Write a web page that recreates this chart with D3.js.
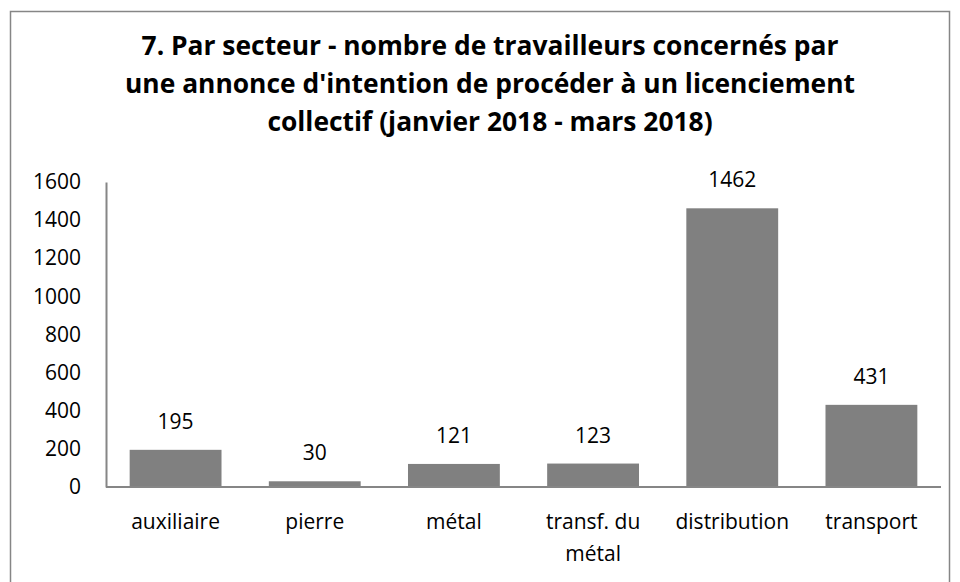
<!DOCTYPE html>
<html>
<head>
<meta charset="utf-8">
<script src="https://cdn.jsdelivr.net/npm/d3@7"></script>
<style>
  html, body { margin: 0; padding: 0; background: #fff; }
  svg { display: block; font-family: "Open Sans", "Liberation Sans", sans-serif; }
</style>
</head>
<body>
<div id="chart"></div>
<script>
/* bar chart — licenciements collectifs par secteur */

const TITLE_LINES = [
  "7. Par secteur - nombre de travailleurs concernés par",
  "une annonce d'intention de procéder à un licenciement",
  "collectif (janvier 2018 - mars 2018)",
];
const categories = ["auxiliaire", "pierre", "métal", "transf. du métal", "distribution", "transport"];
const values     = [195, 30, 121, 123, 1462, 431];
const yTicks     = [0, 200, 400, 600, 800, 1000, 1200, 1400, 1600];

const W = 960, H = 582;
const margin = { top: 182, right: 19, bottom: 95, left: 106 };
const AXIS_COLOR = "#868686";
const BAR_COLOR  = "#808080";
const FONT = '"Open Sans", "Liberation Sans", sans-serif';

const svg = d3.select("#chart").append("svg")
  .attr("width", W).attr("height", H);

// outer frame
svg.append("rect")
  .attr("x", 10.5).attr("y", 11.5)
  .attr("width", 939).attr("height", 600)
  .attr("fill", "none").attr("stroke", AXIS_COLOR).attr("stroke-width", 1.5);

// title
svg.append("text")
  .attr("text-anchor", "middle")
  .attr("font-weight", "bold")
  .attr("font-size", 26.4)
  .selectAll("tspan")
  .data(TITLE_LINES).join("tspan")
    .attr("x", 490)
    .attr("y", (d, i) => 55 + i * 38)
    .text(d => d);

const x = d3.scaleBand()
  .domain(categories)
  .range([margin.left, W - margin.right])
  .paddingInner(0.34).paddingOuter(0.17);

const y = d3.scaleLinear()
  .domain([0, 1600])
  .range([H - margin.bottom, margin.top]);

// bars
svg.append("g").selectAll("rect")
  .data(values).join("rect")
    .attr("x", (d, i) => x(categories[i]))
    .attr("y", d => y(d))
    .attr("width", x.bandwidth())
    .attr("height", d => y(0) - y(d))
    .attr("fill", BAR_COLOR);

// value labels
svg.append("g").selectAll("text")
  .data(values).join("text")
    .attr("x", (d, i) => x(categories[i]) + x.bandwidth() / 2)
    .attr("y", d => y(d) - 21)
    .attr("text-anchor", "middle")
    .attr("font-size", 21)
    .text(d => d);

// y axis
const yAxis = svg.append("g")
  .attr("transform", `translate(${margin.left},0)`)
  .attr("font-family", FONT).attr("font-size", 21)
  .call(d3.axisLeft(y).tickValues(yTicks).tickFormat(d3.format("d")).tickSize(0).tickPadding(25));
yAxis.attr("font-family", FONT).attr("font-size", 21);
yAxis.selectAll(".tick text").attr("fill", "#000");
yAxis.select(".domain").attr("stroke", AXIS_COLOR).attr("stroke-width", 2);

// x axis
const xAxis = svg.append("g")
  .attr("transform", `translate(0,${y(0)})`)
  .call(d3.axisBottom(x).tickSize(0).tickPadding(0));
xAxis.attr("font-family", FONT).attr("font-size", 21);
xAxis.select(".domain").attr("stroke", AXIS_COLOR).attr("stroke-width", 2)
  .attr("d", `M${margin.left},0H${W - margin.right}`);
xAxis.selectAll(".tick text").attr("fill", "#000").attr("dy", null).each(function(d) {
  const t = d3.select(this).text(null).attr("y", 0);
  const words = d.split(" ");
  const lines = [];
  let cur = "";
  for (const w of words) {
    const test = cur ? cur + " " + w : w;
    t.text(test);
    if (cur && this.getComputedTextLength() > x.step() - 4) { lines.push(cur); cur = w; }
    else cur = test;
  }
  lines.push(cur);
  t.text(null);
  lines.forEach((l, i) => t.append("tspan").attr("x", 0).attr("y", 42 + i * 32).text(l));
});
</script>
</body>
</html>
